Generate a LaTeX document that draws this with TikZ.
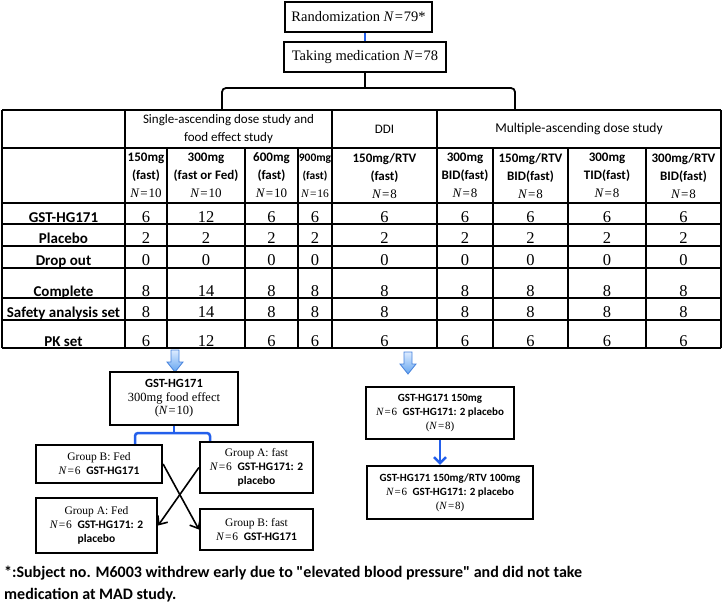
\documentclass[tikz,border=0pt]{standalone}
\usepackage{fontspec}
\setmainfont{Liberation Serif}
\setsansfont{Carlito}
\newfontfamily\notefont{Carlito}
\usetikzlibrary{arrows.meta}

\definecolor{linkblue}{RGB}{35,95,235}
\definecolor{arrowtop}{RGB}{220,235,255}
\definecolor{arrowbot}{RGB}{100,165,240}
\definecolor{arrowline}{RGB}{70,130,220}
\newcommand{\nval}[1]{{\rmfamily\mdseries\textit{N}\kern0.8pt=\kern0.8pt#1}}
\newcommand{\hg}{{\sffamily\bfseries GST-HG171}}

\tikzset{
  box/.style={draw,line width=1.8pt,inner sep=0pt,align=center,font=\rmfamily\fontsize{14.5}{16}\selectfont},
  smallbox/.style={box,line width=2.2pt,font=\rmfamily\fontsize{11.5}{14}\selectfont},
  tabline/.style={line width=1.3pt},
  headtxt/.style={align=center,inner sep=0pt,font=\sffamily\fontsize{13}{18}\selectfont},
  colhead/.style={align=center,inner sep=0pt,font=\sffamily\bfseries\fontsize{13}{18}\selectfont},
  rowlab/.style={anchor=base,inner sep=0pt,font=\sffamily\bfseries\fontsize{15}{18}\selectfont},
  cellnum/.style={anchor=base,inner sep=0pt,font=\rmfamily\fontsize{16.5}{18}\selectfont},
  blueline/.style={draw=linkblue,line width=2.5pt},
  crossarrow/.style={line width=1.6pt,-{Straight Barb[length=7pt,width=12pt]}},
  bigdown/.pic={
    \shade[top color=arrowtop,bottom color=arrowbot,draw=arrowline,line width=0.8pt]
      (-4,0) -- (4,0) -- (4,12) -- (8,12) -- (0,22) -- (-8,12) -- (-4,12) -- cycle;
  }
}

\begin{document}
\begin{tikzpicture}[x=1pt,y=-1pt]
  \useasboundingbox (0,0) rectangle (723,611);

  % top of the flow
  \node[box,minimum width=147pt,minimum height=30pt] (rand) at (358.5,17) {Randomization \nval{79*}};
  \node[box,minimum width=162pt,minimum height=30pt] (take) at (365,57) {Taking medication \nval{78}};
  \draw[blueline,line width=2pt] (take.north) -- (take.north |- rand.south);

  \coordinate (sadtop) at (222,110);
  \coordinate (madtop) at (515,110);
  \draw[line width=1.8pt,rounded corners=4pt] (sadtop) -- ++(0,-22) -| (madtop);
  \draw[line width=1.8pt] (take.south) -- (take.south |- 0,88);

  % table grid
  \foreach \y in {110,148,203,224,246,268,298,320,348}
    \draw[tabline] (2,\y) -- (721,\y);
  \foreach \x in {2,125,332,437,721}
    \draw[tabline] (\x,110) -- (\x,348);
  \foreach \x in {167,245,298,493,568,646}
    \draw[tabline] (\x,148) -- (\x,348);

  % table head
  \node[headtxt] (sad) at (228.5,129) {Single-ascending dose study and\\food effect study};
  \node[headtxt] (ddi) at (384.5,129) {DDI};
  \node[headtxt,font=\sffamily\fontsize{13.5}{18}\selectfont] (mad) at (579,129) {Multiple-ascending dose study};

  \node[colhead] (h1) at (146,175.5) {150mg\\(fast)\\\nval{10}};
  \node[colhead] (h2) at (206,175.5) {300mg\\(fast or Fed)\\\nval{10}};
  \node[colhead] (h3) at (271.5,175.5) {600mg\\(fast)\\\nval{10}};
  \node[colhead,font=\sffamily\bfseries\fontsize{11.5}{18}\selectfont] (h4) at (315,175.5) {900mg\\(fast)\\\nval{16}};
  \node[colhead] (h5) at (384.5,175.5) {150mg/RTV\\(fast)\\\nval{8}};
  \node[colhead] (h6) at (465,175.5) {300mg\\BID(fast)\\\nval{8}};
  \node[colhead] (h7) at (530.5,175.5) {150mg/RTV\\BID(fast)\\\nval{8}};
  \node[colhead] (h8) at (607,175.5) {300mg\\TID(fast)\\\nval{8}};
  \node[colhead] (h9) at (683.5,175.5) {300mg/RTV\\BID(fast)\\\nval{8}};

  % table body
  \foreach \name/\y/\lab/\vals in {
      gst/222.5/GST-HG171/{6,12,6,6,6,6,6,6,6},
      pla/243/Placebo/{2,2,2,2,2,2,2,2,2},
      drop/265/Drop out/{0,0,0,0,0,0,0,0,0},
      comp/296/Complete/{8,14,8,8,8,8,8,8,8},
      safe/317.5/Safety analysis set/{8,14,8,8,8,8,8,8,8},
      pk/346/PK set/{6,12,6,6,6,6,6,6,6}}{
    \node[rowlab] (\name) at (63.5,\y) {\lab};
    \foreach \v [count=\c] in \vals {
      \pgfmathsetmacro{\cx}{{146,206,271.5,315,384.5,465,530.5,607,683.5}[\c-1]}
      \node[cellnum] (\name-\c) at (\cx,\y) {\v};
    }
  }

  % arrows out of the table
  \coordinate (arrsad) at (175,350);
  \coordinate (arrddi) at (408,352);
  \pic at (arrsad) {bigdown};
  \pic at (arrddi) {bigdown};

  % food effect part
  \node[box,line width=2.2pt,minimum width=128pt,minimum height=53pt,font=\rmfamily\fontsize{12.5}{13.5}\selectfont]
    (food) at (174,398.5) {\hg\\300mg food effect\\(\nval{10})};
  \node[smallbox,minimum width=126pt,minimum height=38pt] (bfed) at (99,464) {Group B: Fed\\\nval{6}\enspace\hg};
  \node[smallbox,minimum width=113pt,minimum height=51pt] (afast) at (256.5,467.5)
    {Group A: fast\\\nval{6}\enspace{\sffamily\bfseries GST-HG171: 2}\\{\sffamily\bfseries placebo}};
  \node[smallbox,minimum width=121pt,minimum height=55pt] (afed) at (96.5,525.5)
    {Group A: Fed\\\nval{6}\enspace{\sffamily\bfseries GST-HG171: 2}\\{\sffamily\bfseries placebo}};
  \node[smallbox,minimum width=113pt,minimum height=41pt] (bfast) at (256.5,529.5) {Group B: fast\\\nval{6}\enspace\hg};

  \coordinate (fork) at (174,433);
  \draw[blueline] (food.south) -- (fork);
  \draw[blueline,rounded corners=3pt] (bfed.north -| 135,0) |- (fork) -| (afast.north -| 210,0);
  \draw[crossarrow] (bfed.east) -- (bfast.west);
  \draw[crossarrow] (afast.west) -- (afed.east);

  % DDI part
  \node[smallbox,minimum width=148pt,minimum height=52pt,font=\rmfamily\fontsize{11}{14}\selectfont] (ddi1) at (440,413)
    {{\sffamily\bfseries GST-HG171 150mg}\\\nval{6}\enspace{\sffamily\bfseries GST-HG171: 2 placebo}\\(\nval{8})};
  \node[smallbox,minimum width=166pt,minimum height=53pt,font=\rmfamily\fontsize{11}{14}\selectfont] (ddi2) at (450,492.5)
    {{\sffamily\bfseries GST-HG171 150mg/RTV 100mg}\\\nval{6}\enspace{\sffamily\bfseries GST-HG171: 2 placebo}\\(\nval{8})};
  \draw[blueline,-{Straight Barb[length=6pt,width=12pt]}] (ddi1.south) -- (ddi1.south |- ddi2.north);

  % footnote
  \node[anchor=north west,inner sep=0pt,align=left,font=\notefont\bfseries\fontsize{16}{22}\selectfont] (note) at (4,566)
    {*:Subject no. M6003 withdrew early due to "elevated blood pressure" and did not take\\medication at MAD study.};
\end{tikzpicture}
\end{document}
